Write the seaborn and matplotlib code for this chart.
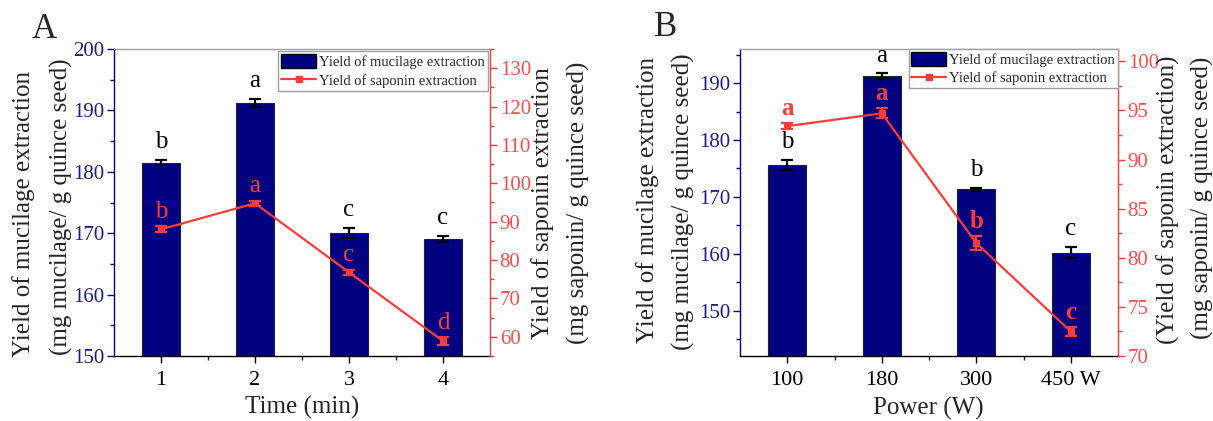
import matplotlib
matplotlib.use('Agg')
import matplotlib.pyplot as plt
import seaborn as sns
import pandas as pd
import numpy as np
from matplotlib.ticker import MultipleLocator
from matplotlib.patches import Patch
from matplotlib.lines import Line2D

# ---------------- data ----------------
time_labels = ['1', '2', '3', '4']
time_mucilage = [181.5, 191.2, 170.0, 169.0]
time_mucilage_err = [0.45, 0.6, 0.8, 0.5]
time_mucilage_letters = ['b', 'a', 'c', 'c']
time_saponin = [88.0, 94.8, 76.8, 58.9]
time_saponin_err = [0.75, 0.6, 0.7, 1.0]
time_saponin_letters = ['b', 'a', 'c', 'd']

power_labels = ['100', '180', '300', '450 W']
power_mucilage = [175.6, 191.2, 171.3, 160.2]
power_mucilage_err = [0.8, 0.5, 0.25, 1.05]
power_mucilage_letters = ['b', 'a', 'b', 'c']
power_saponin = [93.4, 94.7, 81.5, 72.5]
power_saponin_err = [0.3, 0.5, 0.7, 0.45]
power_saponin_letters = ['a', 'a', 'b', 'c']

legend_labels = ['Yield of mucilage extraction', 'Yield of saponin extraction']

# ---------------- style ----------------
sns.set_style('ticks')
plt.rcParams['font.family'] = ['Liberation Serif', 'DejaVu Serif']

W, H = 1213, 421
NAVY = '#000080'
NAVY_TXT = '#1c1c8a'
RED = '#ff3b3b'
RED_TXT = '#ff4d4d'
TICK = 15

fig = plt.figure(figsize=(W / 100, H / 100), dpi=100)


def px_rect(l, r, t, b):
    return [l / W, 1 - b / H, (r - l) / W, (b - t) / H]


def panel(rect, labels, muc, muc_err, muc_let, sap, sap_err, sap_let,
          ylim1, y1maj, y1min, ylim2, y2maj, y2min, red_bold, leg_pad):
    ax = fig.add_axes(rect)
    df = pd.DataFrame({'cat': labels, 'muc': muc})
    sns.barplot(data=df, x='cat', y='muc', color=NAVY, width=0.4,
                edgecolor='#222222', linewidth=0.8, saturation=1, ax=ax,
                errorbar=None)
    xs = np.arange(len(labels))
    ax.errorbar(xs, muc, yerr=muc_err, fmt='none', ecolor='black',
                capsize=4.5, elinewidth=1.6, capthick=1.6, zorder=5)
    ax.set_xlim(-0.5, len(labels) - 0.5)
    ax.set_ylim(*ylim1)
    ax.yaxis.set_major_locator(MultipleLocator(y1maj))
    ax.yaxis.set_minor_locator(MultipleLocator(y1min))
    ax.set_xticks(xs)
    ax.set_xticklabels(labels)
    ax.set_xticks(xs[:-1] + 0.5, minor=True)
    ax.set_xlabel('')
    ax.set_ylabel('')
    ax.tick_params(axis='x', which='major', labelsize=TICK + 1, length=5,
                   width=1, direction='out', colors='black', pad=6)
    ax.tick_params(axis='x', which='minor', length=3, width=1, direction='out')
    ax.tick_params(axis='y', which='major', labelsize=TICK, length=5, width=1,
                   direction='out', color=NAVY, labelcolor=NAVY_TXT, pad=2)
    ax.tick_params(axis='y', which='minor', length=3, width=1,
                   direction='out', color=NAVY)
    ax.spines['left'].set_color(NAVY)
    ax.spines['top'].set_color('#a0a0a0')
    ax.spines['right'].set_visible(False)
    ax.spines['bottom'].set_color('black')
    for sp in ax.spines.values():
        sp.set_linewidth(1.0)

    for x, v, e, t in zip(xs, muc, muc_err, muc_let):
        ax.annotate(t, (x, v + e), xytext=(0, 5), textcoords='offset points',
                    ha='center', va='bottom', fontsize=18, color='black')

    ax2 = ax.twinx()
    sns.lineplot(x=xs, y=sap, ax=ax2, color=RED, linewidth=1.6, marker='s',
                 markersize=5, markeredgecolor=RED, markerfacecolor=RED)
    ax2.errorbar(xs, sap, yerr=sap_err, fmt='none', ecolor=RED, capsize=4.5,
                 elinewidth=1.6, capthick=1.6)
    ax2.set_ylim(*ylim2)
    ax2.yaxis.set_major_locator(MultipleLocator(y2maj))
    ax2.yaxis.set_minor_locator(MultipleLocator(y2min))
    ax2.set_ylabel('')
    ax2.tick_params(axis='y', which='major', labelsize=TICK, length=5, width=1,
                    direction='out', color=RED, labelcolor=RED_TXT, pad=2)
    ax2.tick_params(axis='y', which='minor', length=3, width=1,
                    direction='out', color=RED)
    ax2.spines['right'].set_color(RED)
    ax2.spines['right'].set_linewidth(1.0)
    for s in ['left', 'top', 'bottom']:
        ax2.spines[s].set_visible(False)
    for x, v, e, t in zip(xs, sap, sap_err, sap_let):
        ax2.annotate(t, (x, v + e), xytext=(0, 2.5), textcoords='offset points',
                     ha='center', va='bottom', fontsize=18, color=RED,
                     fontweight='bold' if red_bold else 'normal')

    handles = [Patch(facecolor=NAVY, edgecolor='black', linewidth=1.0),
               Line2D([], [], color=RED, linewidth=1.6, marker='s',
                      markersize=5)]
    leg = ax2.legend(handles, legend_labels, loc='upper right',
                     bbox_to_anchor=(1, 1), borderaxespad=leg_pad,
                     fancybox=False, framealpha=1, edgecolor='#a0a0a0',
                     fontsize=10.5, handlelength=2.4, handleheight=1.1,
                     labelspacing=0.25, borderpad=0.2, handletextpad=0.2)
    leg.get_frame().set_linewidth(1.0)
    return ax, ax2


# panel A
panel(px_rect(114, 490, 49, 356), time_labels, time_mucilage,
      time_mucilage_err, time_mucilage_letters, time_saponin,
      time_saponin_err, time_saponin_letters,
      (150, 200), 10, 5, (55, 135), 10, 5, False, 0.15)
# panel B
panel(px_rect(740, 1118, 49, 356), power_labels, power_mucilage,
      power_mucilage_err, power_mucilage_letters, power_saponin,
      power_saponin_err, power_saponin_letters,
      (142, 196), 10, 5, (70, 101.25), 5, 2.5, True, 0.0)


def ftext(x, y, s, **kw):
    fig.text(x / W, 1 - y / H, s, ha='center', va='center', **kw)


LAB = 18
ftext(24, 214, 'Yield of mucilage extraction', rotation=90, fontsize=LAB)
ftext(61, 207, '(mg mucilage/ g quince seed)', rotation=90, fontsize=LAB)
ftext(543, 203, 'Yield of saponin extraction', rotation=90, fontsize=LAB)
ftext(578, 203, '(mg saponin/ g quince seed)', rotation=90, fontsize=LAB)
ftext(302, 407, 'Time (min)', fontsize=LAB)

ftext(648, 200, 'Yield of mucilage extraction', rotation=90, fontsize=LAB)
ftext(683, 202, '(mg mucilage/ g quince seed)', rotation=90, fontsize=LAB)
ftext(1168, 200, '(Yield of saponin extraction)', rotation=90, fontsize=LAB)
ftext(1202, 198, '(mg saponin/ g quince seed)', rotation=90, fontsize=LAB)
ftext(928, 408, 'Power (W)', fontsize=LAB)

ftext(44, 30, 'A', fontsize=25)
ftext(666, 28, 'B', fontsize=25)

fig.savefig('out.png', dpi=100)
